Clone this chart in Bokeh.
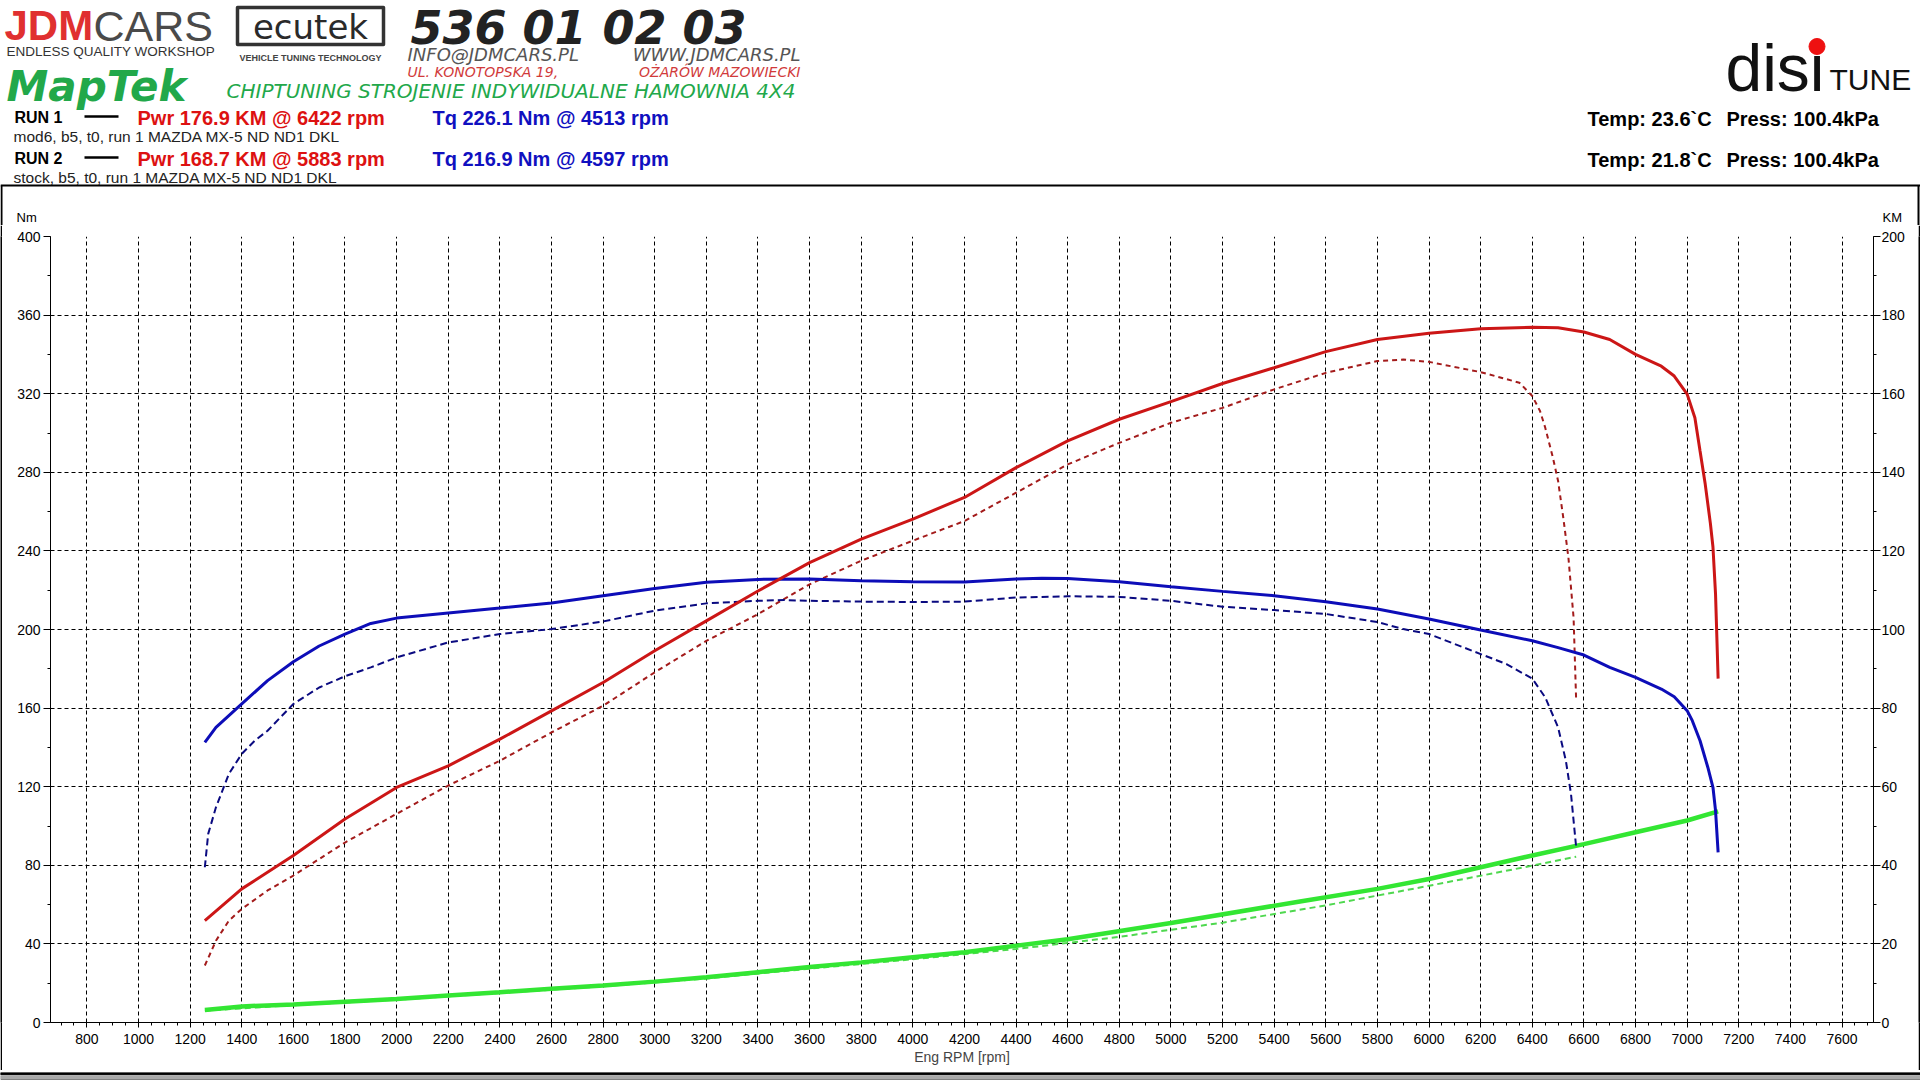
from bokeh.plotting import figure
from bokeh.layouts import column, row
from bokeh.models import LinearAxis, Range1d, SingleIntervalTicker
from bokeh.core.properties import value
from bokeh.embed import file_html
from bokeh.resources import INLINE

# RUN 1 (mod6) - torque [Nm], power [KM], loss [KM]
rpm_tq1 = [1257, 1300, 1400, 1500, 1600, 1700, 1800, 1900, 2000, 2200, 2400, 2600, 2800,
           3000, 3200, 3400, 3600, 3800, 4000, 4200, 4400, 4500, 4600, 4800, 5000, 5200,
           5400, 5600, 5800, 6000, 6200, 6400, 6500, 6600, 6700, 6800, 6900, 6950, 7000,
           7020, 7050, 7080, 7100, 7110, 7120]
tq1 = [142.6, 150.2, 162.1, 174.0, 183.6, 191.6, 197.7, 203.1, 205.8, 208.4, 210.9, 213.5, 217.2,
       220.9, 224.0, 225.5, 225.7, 224.8, 224.3, 224.2, 225.7, 226.1, 226.0, 224.3, 221.8, 219.4,
       217.2, 214.1, 210.4, 205.3, 199.7, 194.3, 190.8, 187.0, 180.7, 175.6, 169.7, 165.8, 158.7,
       153.6, 143.4, 129.9, 119.7, 107.8, 86.6]

rpm_pw1 = [1257, 1400, 1600, 1800, 2000, 2200, 2400, 2600, 2800, 3000, 3200, 3400, 3600,
           3800, 4000, 4200, 4400, 4600, 4800, 5000, 5200, 5400, 5600, 5800, 6000, 6200,
           6400, 6500, 6600, 6700, 6800, 6900, 6950, 7000, 7030, 7050, 7070, 7090, 7100,
           7110, 7120]
pw1 = [25.9, 34.0, 42.5, 51.8, 59.8, 65.3, 72.1, 79.3, 86.5, 94.6, 102.2, 109.8, 117.0,
       123.0, 128.1, 133.6, 141.2, 148.0, 153.5, 158.0, 162.6, 166.6, 170.7, 173.8, 175.4, 176.5,
       176.9, 176.8, 175.7, 173.8, 170.0, 167.0, 164.5, 159.9, 153.9, 145.4, 137.0, 127.0, 121.0,
       109.0, 87.5]

rpm_ls1 = [1257, 1400, 1600, 1800, 2000, 2200, 2400, 2600, 2800, 3000, 3200, 3400, 3600,
           3800, 4000, 4200, 4600, 5000, 5500, 5800, 6000, 6200, 6400, 6600, 6800, 7000, 7120]
ls1 = [3.2, 4.1, 4.6, 5.3, 6.0, 6.9, 7.7, 8.6, 9.4, 10.4, 11.5, 12.8, 14.1,
       15.3, 16.6, 17.9, 21.2, 25.3, 30.8, 34.0, 36.5, 39.5, 42.5, 45.4, 48.4, 51.4, 53.7]

# RUN 2 (stock)
rpm_tq2 = [1257, 1270, 1300, 1350, 1400, 1450, 1500, 1600, 1700, 1800, 1900, 2000, 2200,
           2400, 2600, 2800, 3000, 3200, 3400, 3500, 3600, 3800, 4000, 4200, 4400, 4600,
           4800, 5000, 5200, 5400, 5600, 5800, 5900, 6000, 6200, 6300, 6400, 6450, 6500,
           6530, 6550, 6570]
tq2 = [79.0, 96.0, 109.5, 126.5, 136.7, 143.4, 148.5, 162.1, 170.5, 176.2, 180.7, 185.8, 193.4,
       197.7, 200.2, 204.1, 209.6, 213.3, 214.6, 215.0, 214.6, 214.2, 214.0, 214.2, 216.3, 216.9,
       216.6, 214.6, 211.6, 209.9, 207.9, 203.8, 200.2, 197.7, 187.5, 182.4, 175.0, 165.5, 150.2,
       133.3, 116.3, 89.2]

rpm_pw2 = [1257, 1300, 1350, 1400, 1500, 1600, 1800, 2000, 2200, 2400, 2600, 2800, 3000,
           3200, 3400, 3600, 3800, 4000, 4200, 4400, 4600, 4800, 5000, 5200, 5400, 5600,
           5800, 5900, 6000, 6200, 6350, 6400, 6430, 6450, 6480, 6500, 6520, 6540, 6560, 6570]
pw2 = [14.5, 20.8, 25.9, 28.9, 33.6, 37.4, 45.8, 53.1, 60.3, 66.6, 73.8, 80.6, 89.1,
       97.1, 103.9, 111.5, 117.5, 122.6, 127.6, 134.8, 142.0, 147.5, 152.6, 156.4, 161.1, 165.3,
       168.3, 168.7, 168.1, 165.5, 162.8, 159.4, 155.6, 151.4, 143.7, 137.8, 128.5, 118.3, 103.0, 81.9]

rpm_ls2 = [1257, 1600, 2000, 2400, 2800, 3200, 3600, 4000, 4400, 4800, 5200, 5600, 6000, 6400, 6570]
ls2 = [3.0, 4.4, 5.8, 7.5, 9.2, 11.2, 13.7, 16.1, 18.7, 21.8, 25.4, 29.8, 34.8, 39.9, 42.2]

run_names = ["RUN 1", "RUN 2"]
run_notes = ["mod6, b5, t0, run 1 MAZDA MX-5 ND ND1 DKL", "stock, b5, t0, run 1 MAZDA MX-5 ND ND1 DKL"]
pwr_texts = ["Pwr  176.9 KM @ 6422 rpm", "Pwr  168.7 KM @ 5883 rpm"]
tq_texts = ["Tq 226.1 Nm @ 4513 rpm", "Tq 216.9 Nm @ 4597 rpm"]
temp_texts = ["Temp: 23.6`C", "Temp: 21.8`C"]
press_texts = ["Press: 100.4kPa", "Press: 100.4kPa"]

W = 1920
HEAD_H, CHART_H, FOOT_H = 225, 845, 10


def blank(width, height, y0, y1, bg="white"):
    f = figure(width=width, height=height, x_range=Range1d(0, width), y_range=Range1d(y1, y0),
               output_backend="svg", toolbar_location=None, tools="",
               x_axis_location=None, y_axis_location=None, min_border=0,
               background_fill_color=bg, border_fill_color=bg)
    f.outline_line_color = None
    f.grid.visible = False
    return f


def txt(f, x, y, s, size, color="black", style="normal", font="Liberation Sans", align="left"):
    f.text(x=[x], y=[y], text=[s], text_font=value(font), text_font_size=value(f"{size}px"),
           text_color=color, text_font_style=style, text_align=align, text_baseline="middle")


# ---------------- header ----------------
head = blank(W, HEAD_H, 0, HEAD_H)

# workshop logos (as text)
txt(head, 4, 25, "JDM", 42, color="#e03030", style="bold")
txt(head, 93, 25, "CARS", 43, color="#4a4a4a")
txt(head, 6, 51, "ENDLESS QUALITY WORKSHOP", 13.5, color="#333333")
head.quad(left=[237], right=[383], top=[7], bottom=[44], fill_color=None,
          line_color="#333333", line_width=3.5, line_join="round")
txt(head, 310, 26, "ecutek", 34, color="#2a2a2a", font="DejaVu Sans", align="center")
txt(head, 310, 57, "VEHICLE TUNING TECHNOLOGY", 9, color="#444444", style="bold", align="center")
txt(head, 410, 27, "536 01 02 03", 46, color="#222222", style="bold italic", font="DejaVu Sans")
txt(head, 407, 54, "INFO@JDMCARS.PL", 18, color="#555555", style="italic", font="DejaVu Sans")
txt(head, 800, 54, "WWW.JDMCARS.PL", 18, color="#555555", style="italic", font="DejaVu Sans",
    align="right")
txt(head, 407, 71, "UL. KONOTOPSKA 19,", 14, color="#d13a3a", style="italic", font="DejaVu Sans")
txt(head, 800, 71, "OŻARÓW MAZOWIECKI", 14, color="#d13a3a", style="italic", font="DejaVu Sans",
    align="right")
txt(head, 6, 86, "MapTek", 42, color="#22a84a", style="bold italic", font="DejaVu Sans")
txt(head, 226, 90, "CHIPTUNING STROJENIE INDYWIDUALNE HAMOWNIA 4X4", 20, color="#22a84a",
    style="italic", font="DejaVu Sans")

# disi tune logo
txt(head, 1725, 67, "disi", 66, color="#111111")
head.scatter(x=[1816.5], y=[46], size=16, marker="circle", color="#ee1111")
txt(head, 1829, 78.6, "TUNE", 30, color="#111111")

# run legend
for i in range(2):
    ry = 117 + 41 * i
    txt(head, 14, ry, run_names[i], 16, style="bold")
    head.line(x=[84, 118], y=[ry - 1, ry - 1], color="black", line_width=2.5)
    txt(head, 137, ry, pwr_texts[i], 20, color="#dd1111", style="bold")
    txt(head, 432, ry, tq_texts[i], 20, color="#1010c0", style="bold")
    txt(head, 13, ry + 18.5, run_notes[i], 15.5, color="#222222")
    txt(head, 1587, ry + 1, temp_texts[i], 20, style="bold")
    txt(head, 1726, ry + 1, press_texts[i], 20, style="bold")

# chart panel border (top part) and unit labels
head.line(x=[0, W], y=[185, 185], color="black", line_width=2)
head.line(x=[1, 1], y=[185, HEAD_H], color="black", line_width=2)
head.line(x=[W - 2, W - 2], y=[185, HEAD_H], color="black", line_width=2)
txt(head, 16, 217, "Nm", 13)
txt(head, 1882, 217, "KM", 13)

# ---------------- chart ----------------
p = figure(width=W - 4, height=CHART_H, x_range=Range1d(659, 7722), y_range=Range1d(0, 400),
           output_backend="svg", toolbar_location=None, tools="",
           min_border_left=48, min_border_right=45, min_border_top=11, min_border_bottom=48)
p.extra_y_ranges = {"km": Range1d(0, 200)}
p.outline_line_color = None
p.background_fill_color = "white"
p.border_fill_color = "white"

p.xaxis.ticker = SingleIntervalTicker(interval=200, num_minor_ticks=4)
p.yaxis.ticker = SingleIntervalTicker(interval=40, num_minor_ticks=2)
km_axis = LinearAxis(y_range_name="km", ticker=SingleIntervalTicker(interval=20, num_minor_ticks=2))
p.add_layout(km_axis, "right")

for ax in [p.xaxis[0], p.yaxis[0], km_axis]:
    ax.axis_line_color = "black"
    ax.major_tick_line_color = "black"
    ax.minor_tick_line_color = "black"
    ax.major_tick_in = 0
    ax.minor_tick_in = 0
    ax.major_tick_out = 7
    ax.minor_tick_out = 3
    ax.major_label_text_font = "Liberation Sans"
    ax.major_label_text_font_size = "14px"
    ax.major_label_text_color = "black"
    ax.major_label_standoff = 3

km_axis.major_label_standoff = 1
p.xaxis.major_tick_out = 5
p.xaxis.major_label_standoff = 6
p.xaxis.axis_label = "Eng RPM [rpm]"
p.xaxis.axis_label_text_font = "Liberation Sans"
p.xaxis.axis_label_text_font_size = "14px"
p.xaxis.axis_label_text_font_style = "normal"
p.xaxis.axis_label_standoff = 2

for g in [p.xgrid[0], p.ygrid[0]]:
    g.grid_line_color = "black"
    g.grid_line_dash = "4 3"
    g.grid_line_width = 1

p.line(rpm_ls2, ls2, y_range_name="km", color="#4fd84f", line_width=2, line_dash="6 4")
p.line(rpm_ls1, ls1, y_range_name="km", color="#33e633", line_width=4.5)
p.line(rpm_pw2, pw2, y_range_name="km", color="#a31b1b", line_width=2, line_dash="5 4")
p.line(rpm_tq2, tq2, color="#0a0a80", line_width=2, line_dash="7 4")
p.line(rpm_tq1, tq1, color="#0d0db8", line_width=3)
p.line(rpm_pw1, pw1, y_range_name="km", color="#cc1616", line_width=3)

# side borders of the chart panel
lbar = blank(2, CHART_H, 0, CHART_H, bg="black")
rbar = blank(2, CHART_H, 0, CHART_H, bg="black")

# ---------------- footer (bottom border stripes) ----------------
foot = blank(W, FOOT_H, 1070, 1080)
foot.quad(left=[0], right=[W], top=[1070], bottom=[1072.2], color="black")
foot.quad(left=[0], right=[W], top=[1073.3], bottom=[1076.7], color="#a8a8a8")
foot.quad(left=[0], right=[W], top=[1077.7], bottom=[1079.3], color="black")

layout = column(head, row(lbar, p, rbar), foot)
open("out.html", "w").write(file_html(layout, INLINE))
